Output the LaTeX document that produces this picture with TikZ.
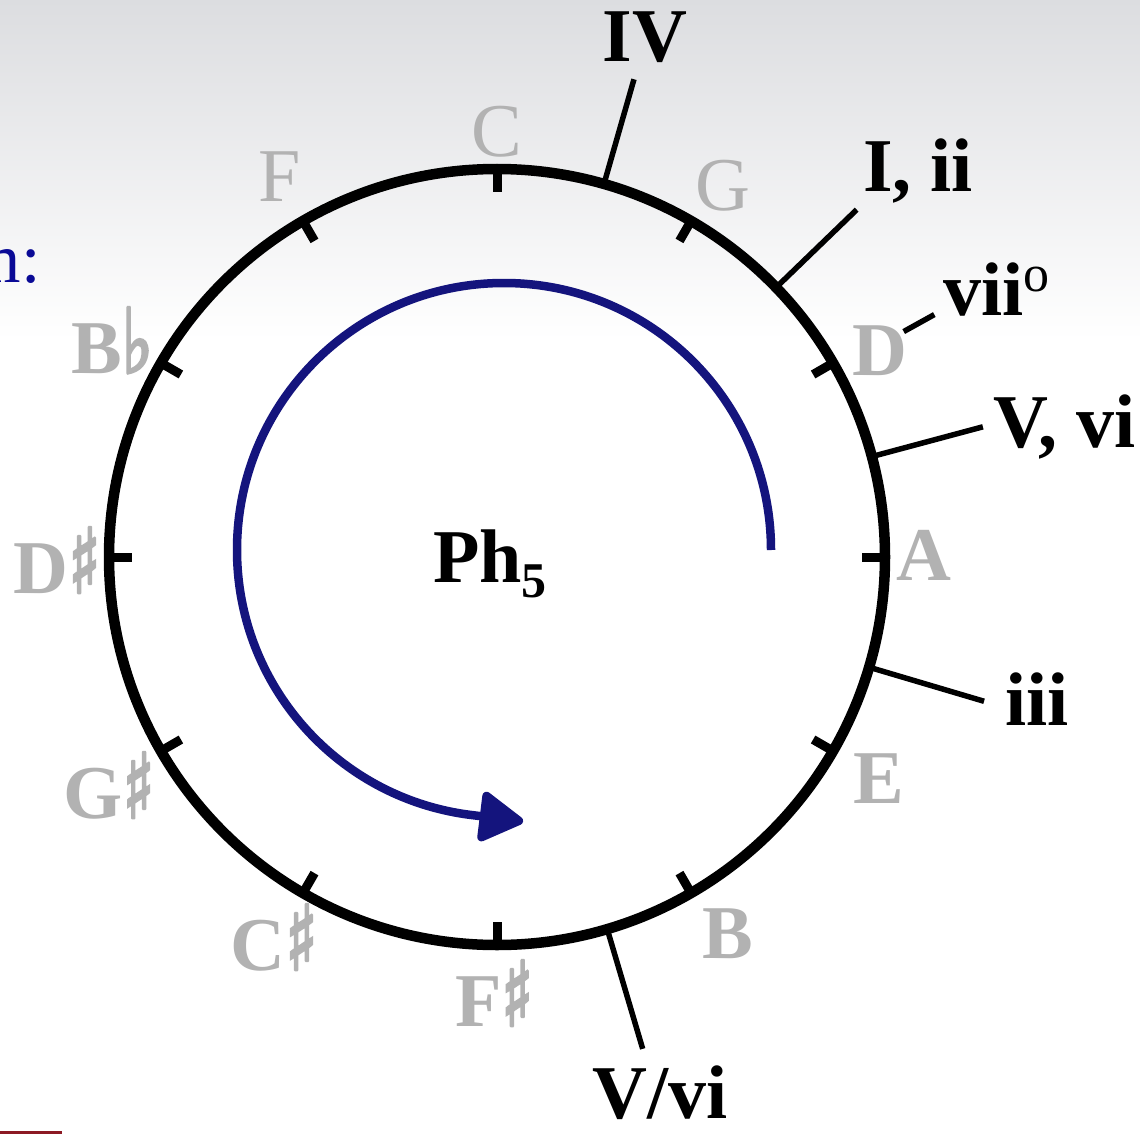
\documentclass[tikz,border=0pt]{standalone}
\usepackage{fontspec}
\setmainfont{Liberation Serif}
\usetikzlibrary{arrows.meta,calc}
\definecolor{notegray}{RGB}{178,178,178}
\definecolor{arcblue}{RGB}{20,20,125}
\definecolor{txtblue}{RGB}{10,10,150}
\definecolor{barred}{RGB}{140,25,35}
\definecolor{sky}{RGB}{220,221,224}
\font\accfont="DejaVu Sans:extend=0.72;embolden=3" at 90pt
\newcommand\shp{{\accfont ♯}}
\newcommand\flt{{\accfont ♭}}
\begin{document}
\begin{tikzpicture}[x=1pt,y=-1pt,
  note/.style={text=notegray,inner sep=0pt,anchor=base,font=\fontsize{76}{80}\selectfont},
  notebf/.style={note,font=\fontsize{76}{80}\selectfont\bfseries},
  chord/.style={text=black,inner sep=0pt,anchor=base,font=\fontsize{76}{80}\selectfont\bfseries},
  ring/.style={line width=10.5pt,black},
  tickmark/.style={line width=9pt,black},
  chordline/.style={line width=5.5pt,black},
  cycle arrow/.style={line width=8.5pt,arcblue,-{Triangle[length=48pt,width=54pt,round]}}
]
\useasboundingbox (0,0) rectangle (1140,1134);
% background
\fill[white] (0,0) rectangle (1140,1134);
\shade[top color=sky,bottom color=white] (0,0) rectangle (1140,340);
% centre
\coordinate (O) at (497,557);
% circle
\draw[ring] (O) circle[radius=388];
% ticks
\foreach \a in {0,30,...,330}{
  \draw[tickmark] ($(O)+(-\a:388)$) -- ($(O)+(-\a:365)$);
}
% note names
\node[note]   (nC)  at (497,157) {C};
\node[note]   (nG)  at (723,211) {G};
\node[notebf] (nD)  at (880,375) {D};
\node[notebf] (nA)  at (924,580) {A};
\node[notebf] (nE)  at (879,803) {E};
\node[notebf] (nB)  at (728,958) {B};
\node[notebf] (nFs) at (494,1026) {F\shp};
\node[notebf] (nCs) at (274,970) {C\shp};
\node[notebf] (nGs) at (109,818) {G\shp};
\node[notebf] (nDs) at (57,593) {D\shp};
\node[notebf] (nBb) at (112,373) {B\flt};
\node[note]   (nF)  at (280,202) {F};
% chord lines
\coordinate (cIVa) at ($(O)+(-74:388)$);
\coordinate (cIVb) at ($(O)+(-74:497)$);
\coordinate (cIa) at ($(O)+(-44:388)$);
\coordinate (cIb) at ($(O)+(-44:500)$);
\coordinate (cVIIa) at ($(O)+(-29:465)$);
\coordinate (cVIIb) at ($(O)+(-29:500)$);
\coordinate (cVa) at ($(O)+(-15:388)$);
\coordinate (cVb) at ($(O)+(-15:503)$);
\coordinate (cIIIa) at ($(O)+(16.5:388)$);
\coordinate (cIIIb) at ($(O)+(16.5:508)$);
\coordinate (cVVa) at ($(O)+(73.5:388)$);
\coordinate (cVVb) at ($(O)+(73.5:513)$);
\draw[chordline] (cIVa) -- (cIVb);
\draw[chordline] (cIa) -- (cIb);
\draw[chordline] (cVIIa) -- (cVIIb);
\draw[chordline] (cVa) -- (cVb);
\draw[chordline] (cIIIa) -- (cIIIb);
\draw[chordline] (cVVa) -- (cVVb);
% chord labels
\node[chord] (lIV) at (645,62) {IV};
\node[chord] (lI) at (918,192) {I, ii};
\node[chord,anchor=base west] (lVII) at (943,315) {vii\raisebox{24pt}{\fontsize{52}{52}\selectfont\mdseries o}};
\node[chord,anchor=base west] (lV) at (993,447) {V, vi};
\node[chord,anchor=base west] (lIII) at (1005,725) {iii};
\node[chord] (lVV) at (660,1118) {V/vi};
% centre label
\node[chord,anchor=base west] (ph) at (433,582) {Ph\raisebox{-15pt}{\fontsize{50}{50}\selectfont 5}};
% blue cycle arrow: circular arc, then straight into the tip
\coordinate (arcS) at (771,550);
\draw[cycle arrow] (arcS) arc[start angle=0,end angle=-263,radius=267] -- ++(7:52) coordinate (arcE);
% partial text at left
\node[text=txtblue,inner sep=0pt,anchor=base east,font=\fontsize{70}{74}\selectfont] (mtxt) at (41,282) {m:};
% red rule bottom-left
\coordinate (r1) at (0,1132.5);
\coordinate (r2) at (62,1132.5);
\draw[barred,line width=3pt] (r1) -- (r2);
\end{tikzpicture}
\end{document}
